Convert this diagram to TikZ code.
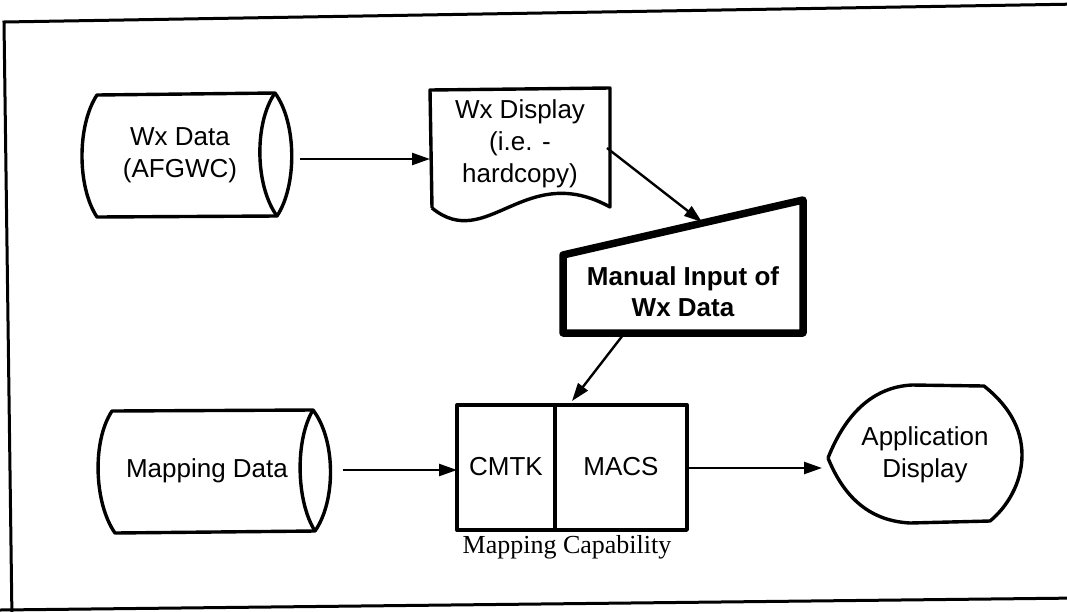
\documentclass[tikz,border=0pt]{standalone}
\usepackage{fontspec}
\setmainfont{Liberation Sans}
\newfontfamily\capserif{Liberation Serif}
\usetikzlibrary{arrows.meta}
\begin{document}
\begin{tikzpicture}[x=1pt,y=-1pt,
  shapeline/.style={line width=3.4pt,line join=round},
  heavyline/.style={line width=7.5pt,line join=round},
  conn/.style={line width=2.4pt,-{Triangle[length=18pt,width=12pt]}},
  lbl/.style={font=\fontsize{26}{32}\selectfont,align=center,inner sep=0pt},
  bold lbl/.style={font=\fontsize{26}{31}\selectfont\bfseries,align=center,inner sep=0pt}]
\useasboundingbox (0,0) rectangle (1067,611);
% outer frame
\draw[line width=3pt] (1080,4) -- (4,22) -- (12,620);
\draw[line width=3pt] (0,610) -- (1080,598);

% Wx Data cylinder
\draw[shapeline] (97,95) -- (275,93) .. controls (297,123) and (297,186) .. (277,216)
  -- (97,217) .. controls (77,187) and (77,125) .. cycle;
\draw[shapeline] (275,93) .. controls (254,123) and (255,186) .. (277,216);
\node[lbl] (wxdata) at (180,155) {Wx Data\\(AFGWC)};

% Wx Display document
\draw[shapeline] (432,208) -- (430,90) -- (610,88) -- (610,207)
  .. controls (525,160) and (487,253) .. (432,208);
\node[lbl] (wxdisp) at (520,144) {Wx Display\\(i.e. -\\hardcopy)};

% Manual input
\draw[heavyline] (563,255) -- (803,200) -- (803,333) -- (563,333) -- cycle;
\node[bold lbl] (manual) at (683,292) {Manual Input of\\Wx Data};

% Mapping Data cylinder
\draw[shapeline] (112,411) -- (313,410) .. controls (336,440) and (336,501) .. (315,531)
  -- (115,533) .. controls (94,503) and (92,441) .. cycle;
\draw[shapeline] (313,410) .. controls (295,440) and (296,501) .. (315,531);
\node[lbl] (mapdata) at (207,471) {Mapping Data};

% Mapping capability
\draw[shapeline] (457,405) rectangle (687,530);
\draw[shapeline] (555,405) -- (555,530);
\node[lbl] (cmtk) at (506,467) {CMTK};
\node[lbl] (macs) at (621,467) {MACS};
\node[font=\capserif\fontsize{26}{30}\selectfont,inner sep=0pt] (mapcap) at (567,547) {Mapping Capability};

% Application display
\draw[shapeline] (828,458) .. controls (845,415) and (872,387) .. (912,385) -- (984,386)
  .. controls (1008,405) and (1022,428) .. (1022,455)
  .. controls (1022,484) and (1006,508) .. (990,521) -- (910,523)
  .. controls (872,521) and (845,500) .. (828,458);
\node[lbl] (appdisp) at (925,455) {Application\\Display};

% connector end points
\coordinate (a1s) at (300,159);
\coordinate (a1e) at (430,159);
\coordinate (a2s) at (607,148);
\coordinate (a2e) at (702,222);
\coordinate (a3s) at (623,335);
\coordinate (a3e) at (572,401);
\coordinate (a4s) at (343,470);
\coordinate (a4e) at (457,470);
\coordinate (a5s) at (688,468);
\coordinate (a5e) at (822,468);

\draw[conn] (a1s) -- (a1e);
\draw[conn] (a2s) -- (a2e);
\draw[conn] (a3s) -- (a3e);
\draw[conn] (a4s) -- (a4e);
\draw[conn] (a5s) -- (a5e);
\end{tikzpicture}
\end{document}
